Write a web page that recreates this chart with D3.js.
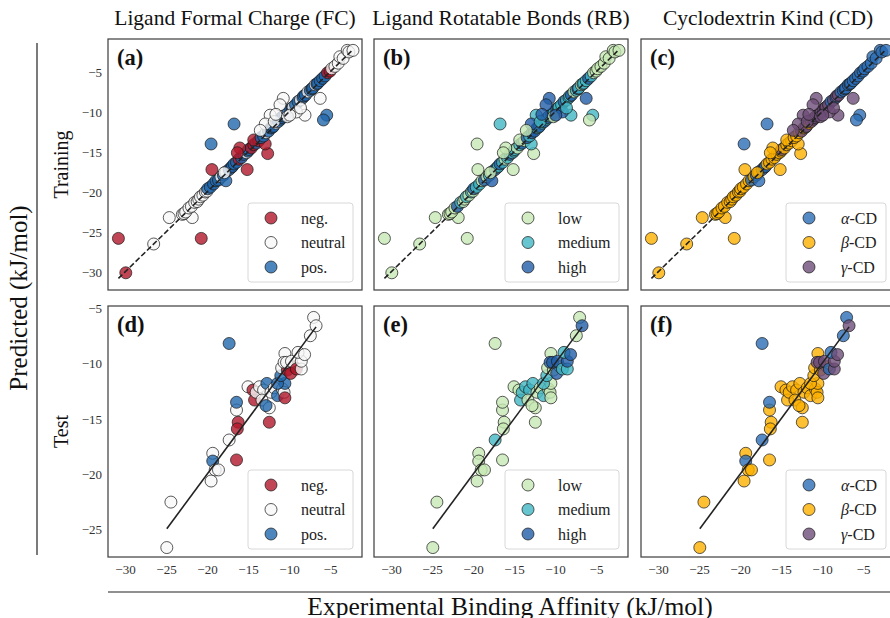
<!DOCTYPE html>
<html>
<head>
<meta charset="utf-8">
<script src="https://cdn.jsdelivr.net/npm/d3@7"></script>
<style>
  body { margin: 0; background: #fff; }
  svg { display: block; font-family: "Liberation Serif", "Times New Roman", serif; }
</style>
</head>
<body>
<div id="chart"></div>
<script>
// column titles and row names
var colTitles = ["Ligand Formal Charge (FC)", "Ligand Rotatable Bonds (RB)", "Cyclodextrin Kind (CD)"];
var rowNames = ["Training", "Test"];
var panelTags = [["(a)", "(b)", "(c)"], ["(d)", "(e)", "(f)"]];

// categories per column
var fcCats = ["neg", "neutral", "pos"];
var fcLabels = ["neg.", "neutral", "pos."];
var fcColors = ["#b2182b", "#f7f7f7", "#2166ac"];

var rbCats = ["low", "medium", "high"];
var rbLabels = ["low", "medium", "high"];
var rbColors = ["#c7e9b4", "#41b6c4", "#225ea8"];

var cdCats = ["a", "b", "g"];
var cdGreek = ["\u03b1", "\u03b2", "\u03b3"];
var cdColors = ["#2a6db5", "#fcb000", "#6e4d78"];

var xTicks = [-30, -25, -20, -15, -10, -5];
var yTicksTrain = [-30, -25, -20, -15, -10, -5];
var yTicksTest = [-25, -20, -15, -10, -5];

// [experimental, predicted, FC, RB, CD]
var trainRows = [
  [-30.8, -25.8, "neg", "low", "b"],
  [-29.9, -30.1, "neg", "low", "b"],
  [-26.5, -26.5, "neutral", "low", "b"],
  [-24.6, -23.2, "neutral", "low", "b"],
  [-21.8, -23.2, "neutral", "low", "b"],
  [-20.7, -25.8, "neg", "low", "b"],
  [-23.0, -22.8, "neutral", "low", "b"],
  [-22.8, -22.7, "neutral", "low", "b"],
  [-22.6, -22.5, "neutral", "low", "b"],
  [-22.2, -22.0, "neutral", "low", "b"],
  [-21.9, -21.8, "neutral", "high", "b"],
  [-21.5, -21.3, "neutral", "medium", "b"],
  [-21.2, -21.2, "neutral", "low", "b"],
  [-21.0, -20.9, "neutral", "low", "b"],
  [-20.8, -20.6, "neutral", "medium", "b"],
  [-20.5, -20.4, "neutral", "low", "b"],
  [-20.2, -20.0, "neutral", "medium", "b"],
  [-20.0, -19.9, "neutral", "low", "b"],
  [-19.9, -19.6, "pos", "high", "b"],
  [-19.6, -19.4, "pos", "medium", "b"],
  [-19.2, -19.0, "pos", "medium", "b"],
  [-18.9, -18.6, "pos", "low", "b"],
  [-18.6, -18.5, "pos", "high", "a"],
  [-18.3, -18.1, "neutral", "low", "b"],
  [-18.0, -17.9, "pos", "medium", "a"],
  [-17.7, -17.5, "neutral", "low", "b"],
  [-17.7, -18.6, "pos", "high", "a"],
  [-17.3, -17.2, "pos", "high", "a"],
  [-17.0, -16.9, "pos", "medium", "a"],
  [-16.9, -16.8, "pos", "medium", "a"],
  [-16.7, -16.5, "pos", "high", "b"],
  [-16.4, -16.3, "pos", "medium", "b"],
  [-16.1, -15.9, "neg", "low", "b"],
  [-15.8, -15.7, "pos", "medium", "b"],
  [-15.5, -15.3, "pos", "high", "b"],
  [-15.2, -15.1, "neutral", "medium", "b"],
  [-15.0, -14.9, "pos", "medium", "b"],
  [-14.9, -14.7, "pos", "medium", "g"],
  [-14.6, -14.5, "neg", "low", "b"],
  [-14.3, -14.1, "neg", "medium", "b"],
  [-14.0, -13.9, "pos", "high", "b"],
  [-13.7, -13.6, "neg", "low", "b"],
  [-19.5, -14.0, "pos", "low", "a"],
  [-16.7, -11.5, "pos", "medium", "a"],
  [-19.4, -17.2, "neg", "low", "b"],
  [-15.1, -17.2, "neg", "low", "b"],
  [-12.6, -15.2, "neg", "low", "b"],
  [-16.0, -14.5, "neg", "low", "b"],
  [-16.3, -15.1, "neg", "low", "b"],
  [-14.3, -13.5, "neg", "low", "b"],
  [-12.9, -14.0, "neg", "medium", "b"],
  [-13.4, -13.2, "pos", "high", "b"],
  [-13.1, -13.0, "pos", "medium", "b"],
  [-12.8, -12.6, "neutral", "high", "b"],
  [-12.5, -12.4, "pos", "high", "g"],
  [-12.2, -12.0, "pos", "medium", "b"],
  [-12.0, -11.9, "pos", "medium", "g"],
  [-11.9, -11.8, "pos", "high", "g"],
  [-11.6, -11.4, "neutral", "medium", "b"],
  [-11.3, -11.2, "pos", "high", "g"],
  [-11.0, -10.9, "pos", "medium", "g"],
  [-10.9, -10.7, "pos", "high", "g"],
  [-10.7, -10.5, "pos", "medium", "g"],
  [-10.4, -10.3, "neutral", "high", "g"],
  [-10.1, -10.0, "pos", "medium", "g"],
  [-9.8, -9.6, "pos", "high", "g"],
  [-9.6, -9.5, "pos", "medium", "g"],
  [-9.5, -9.4, "neutral", "medium", "g"],
  [-9.2, -9.1, "pos", "medium", "g"],
  [-8.9, -8.7, "pos", "high", "a"],
  [-8.6, -8.5, "neutral", "medium", "g"],
  [-8.3, -8.2, "pos", "medium", "a"],
  [-8.2, -8.0, "pos", "medium", "g"],
  [-8.0, -7.9, "pos", "high", "g"],
  [-7.7, -7.5, "neutral", "low", "a"],
  [-7.4, -7.3, "pos", "medium", "a"],
  [-7.2, -7.1, "pos", "high", "a"],
  [-7.1, -7.0, "pos", "medium", "a"],
  [-6.8, -6.6, "neutral", "low", "a"],
  [-6.6, -6.5, "pos", "medium", "a"],
  [-6.5, -6.4, "pos", "medium", "a"],
  [-6.2, -6.1, "pos", "medium", "a"],
  [-5.9, -5.8, "pos", "high", "a"],
  [-5.6, -5.5, "pos", "medium", "a"],
  [-5.3, -5.1, "neg", "low", "a"],
  [-5.0, -4.9, "neg", "low", "a"],
  [-4.8, -4.6, "neutral", "low", "a"],
  [-4.4, -4.3, "neutral", "low", "a"],
  [-4.0, -3.9, "neutral", "low", "a"],
  [-3.8, -3.1, "neutral", "low", "a"],
  [-3.4, -3.3, "neutral", "low", "a"],
  [-2.9, -2.3, "neutral", "low", "a"],
  [-2.7, -2.5, "neutral", "low", "a"],
  [-2.2, -2.3, "neutral", "low", "a"],
  [-10.7, -8.3, "neutral", "high", "g"],
  [-11.1, -9.1, "neutral", "high", "g"],
  [-12.3, -10.4, "neutral", "medium", "g"],
  [-12.9, -11.5, "neutral", "high", "g"],
  [-8.05, -10.4, "neutral", "medium", "g"],
  [-9.1, -10.0, "neutral", "high", "g"],
  [-6.2, -8.3, "neutral", "high", "g"],
  [-5.4, -10.4, "pos", "medium", "a"],
  [-5.8, -11.0, "pos", "low", "a"],
  [-11.8, -11.2, "neutral", "medium", "g"],
  [-10.2, -10.6, "neutral", "low", "g"],
  [-8.6, -9.5, "neutral", "medium", "g"],
  [-9.9, -10.4, "neutral", "high", "g"],
  [-11.6, -10.3, "neutral", "high", "g"],
  [-13.5, -12.3, "neutral", "low", "g"],
  [-17.9, -17.6, "neutral", "low", "b"]
];

var testRows = [
  [-24.9, -26.6, "neutral", "low", "b"],
  [-24.4, -22.5, "neutral", "low", "b"],
  [-19.5, -20.6, "neutral", "low", "b"],
  [-19.3, -18.1, "neutral", "low", "b"],
  [-19.3, -18.8, "pos", "low", "a"],
  [-19.0, -19.6, "neutral", "low", "b"],
  [-18.6, -19.6, "neutral", "low", "b"],
  [-17.3, -8.2, "pos", "low", "a"],
  [-17.3, -16.9, "neutral", "medium", "a"],
  [-16.4, -18.7, "neg", "low", "b"],
  [-16.4, -14.2, "neutral", "low", "b"],
  [-16.4, -13.5, "pos", "low", "a"],
  [-16.2, -15.3, "neg", "low", "b"],
  [-16.3, -15.9, "neg", "low", "b"],
  [-12.4, -15.3, "neg", "low", "b"],
  [-15.0, -12.1, "neutral", "low", "b"],
  [-14.4, -12.4, "neg", "low", "b"],
  [-14.2, -13.3, "neg", "medium", "b"],
  [-14.0, -12.6, "neutral", "medium", "b"],
  [-13.6, -12.1, "neutral", "medium", "b"],
  [-13.1, -12.4, "neutral", "medium", "b"],
  [-13.3, -13.3, "neutral", "low", "b"],
  [-12.4, -14.0, "neutral", "low", "b"],
  [-12.7, -11.8, "pos", "medium", "b"],
  [-12.8, -13.8, "pos", "low", "b"],
  [-12.2, -12.6, "neutral", "low", "b"],
  [-11.8, -12.2, "neutral", "low", "b"],
  [-11.4, -12.9, "pos", "medium", "b"],
  [-10.8, -12.3, "neutral", "low", "b"],
  [-10.6, -12.6, "neutral", "low", "b"],
  [-10.5, -13.1, "neg", "low", "b"],
  [-10.5, -11.8, "pos", "low", "b"],
  [-11.4, -11.8, "pos", "medium", "b"],
  [-11.0, -11.1, "pos", "medium", "b"],
  [-10.9, -10.4, "neutral", "low", "b"],
  [-10.2, -10.6, "neg", "low", "b"],
  [-9.4, -10.3, "neg", "low", "b"],
  [-10.5, -9.1, "neutral", "low", "b"],
  [-10.6, -9.9, "neutral", "high", "g"],
  [-10.3, -9.9, "neutral", "high", "g"],
  [-9.8, -10.9, "neg", "high", "g"],
  [-9.7, -9.8, "neutral", "high", "g"],
  [-9.1, -10.5, "neg", "medium", "a"],
  [-8.5, -10.5, "neutral", "medium", "g"],
  [-8.5, -9.8, "neutral", "high", "g"],
  [-8.9, -9.0, "neutral", "medium", "a"],
  [-8.1, -9.2, "neutral", "high", "g"],
  [-7.4, -7.5, "neutral", "low", "a"],
  [-7.0, -5.85, "neutral", "low", "a"],
  [-6.7, -6.6, "neutral", "high", "g"]
];

var W = 890, H = 618;
var colLefts = [108, 374, 641];
var rowTops = [39, 306];
var panelW = 254, panelH = 251;
var xDomain = [-32.07, -1.1];
var yDomains = [[-32.25, -0.88], [-27.45, -4.82]];
var markR = 6;

var columns = [
  { idx: 2, cats: fcCats, labels: fcLabels, colors: fcColors, legendW: 105 },
  { idx: 3, cats: rbCats, labels: rbLabels, colors: rbColors, legendW: 114 },
  { idx: 4, cats: cdCats, labels: cdGreek, colors: cdColors, legendW: 100 }
];

var svg = d3.select("#chart").append("svg")
  .attr("width", W)
  .attr("height", H);

var defs = svg.append("defs");

// column titles
colTitles.forEach(function(t, c) {
  svg.append("text").text(t)
    .attr("x", colLefts[c] + panelW / 2)
    .attr("y", 25)
    .attr("text-anchor", "middle")
    .style("font-size", "21.5px")
    .attr("fill", "#111");
});

[trainRows, testRows].forEach(function(rows, r) {
  var top = rowTops[r];
  var y = d3.scaleLinear().domain(yDomains[r]).range([top + panelH, top]);

  columns.forEach(function(col, c) {
    var left = colLefts[c];
    var x = d3.scaleLinear().domain(xDomain).range([left, left + panelW]);
    var color = d3.scaleOrdinal().domain(col.cats).range(col.colors);
    var clipId = "clip" + r + c;

    defs.append("clipPath").attr("id", clipId)
      .append("rect")
      .attr("x", left).attr("y", top)
      .attr("width", panelW).attr("height", panelH);

    var g = svg.append("g").attr("clip-path", "url(#" + clipId + ")");

    g.selectAll("circle").data(rows).enter().append("circle")
      .attr("cx", function(d) { return x(d[0]); })
      .attr("cy", function(d) { return y(d[1]); })
      .attr("r", markR)
      .attr("fill", function(d) { return color(d[col.idx]); })
      .attr("fill-opacity", 0.8)
      .attr("stroke", "#1a1a1a")
      .attr("stroke-opacity", 0.8)
      .attr("stroke-width", 0.9);

    // identity line over the range of experimental values
    var ext = d3.extent(rows, function(d) { return d[0]; });
    g.append("line")
      .attr("x1", x(ext[0])).attr("y1", y(ext[0]))
      .attr("x2", x(ext[1])).attr("y2", y(ext[1]))
      .attr("stroke", "#222")
      .attr("stroke-width", 1.6)
      .attr("stroke-dasharray", r == 0 ? "5.5,2.5" : null);

    // frame
    svg.append("rect")
      .attr("x", left).attr("y", top)
      .attr("width", panelW).attr("height", panelH)
      .attr("fill", "none")
      .attr("stroke", "#444")
      .attr("stroke-width", 1.25);

    // panel tag
    svg.append("text").text(panelTags[r][c])
      .attr("x", left + 9)
      .attr("y", top + 26)
      .style("font-size", "22.5px")
      .style("font-weight", "bold")
      .attr("fill", "#111");

    // legend
    var lw = col.legendW, lh = 79;
    var lx = left + panelW - 9 - lw, ly = top + panelH - 8 - lh;
    var leg = svg.append("g");
    leg.append("rect")
      .attr("x", lx).attr("y", ly)
      .attr("width", lw).attr("height", lh)
      .attr("rx", 3)
      .attr("fill", "#fff")
      .attr("fill-opacity", 0.8)
      .attr("stroke", "#d8d8d8")
      .attr("stroke-width", 1);
    col.cats.forEach(function(cat, i) {
      var cy = ly + 15 + i * 24.5;
      leg.append("circle")
        .attr("cx", lx + 23).attr("cy", cy)
        .attr("r", markR)
        .attr("fill", color(cat))
        .attr("fill-opacity", 0.8)
        .attr("stroke", "#1a1a1a")
        .attr("stroke-opacity", 0.8)
        .attr("stroke-width", 0.9);
      var t = leg.append("text")
        .attr("x", lx + (c == 2 ? 55 : 53)).attr("y", cy + 5.5)
        .style("font-size", "16px")
        .attr("fill", "#222");
      if (c == 2) {
        t.append("tspan").text(col.labels[i]).style("font-style", "italic");
        t.append("tspan").text("-CD");
      } else {
        t.text(col.labels[i]);
      }
    });

    // x axis on bottom row
    if (r == 1) {
      var xa = svg.append("g")
        .attr("transform", "translate(0," + (top + panelH) + ")")
        .call(d3.axisBottom(x).tickValues(xTicks).tickSize(0).tickPadding(8));
      xa.select(".domain").remove();
      xa.selectAll("text").style("font-size", "13px").style("font-family", "Liberation Serif, serif").attr("fill", "#333");
    }
    // y axis on first column
    if (c == 0) {
      var ya = svg.append("g")
        .attr("transform", "translate(" + left + ",0)")
        .call(d3.axisLeft(y).tickValues(r == 0 ? yTicksTrain : yTicksTest).tickSize(0).tickPadding(6));
      ya.select(".domain").remove();
      ya.selectAll("text").style("font-size", "13px").style("font-family", "Liberation Serif, serif").attr("fill", "#333");
    }
  });

  // row name
  svg.append("text").text(rowNames[r])
    .attr("transform", "translate(68," + (top + panelH / 2) + ") rotate(-90)")
    .attr("text-anchor", "middle")
    .style("font-size", "20px")
    .attr("fill", "#111");
});

// big axis labels and separator lines
svg.append("line")
  .attr("x1", 37).attr("x2", 37)
  .attr("y1", 43).attr("y2", 555)
  .attr("stroke", "#222").attr("stroke-width", 1.2);
svg.append("text").text("Predicted (kJ/mol)")
  .attr("transform", "translate(27,298) rotate(-90)")
  .attr("text-anchor", "middle")
  .style("font-size", "25px")
  .attr("fill", "#111");

svg.append("line")
  .attr("x1", 108).attr("x2", 890)
  .attr("y1", 592).attr("y2", 592)
  .attr("stroke", "#222").attr("stroke-width", 1.2);
svg.append("text").text("Experimental Binding Affinity (kJ/mol)")
  .attr("x", 510)
  .attr("y", 615)
  .attr("text-anchor", "middle")
  .style("font-size", "25.5px")
  .attr("fill", "#111");
</script>
</body>
</html>
